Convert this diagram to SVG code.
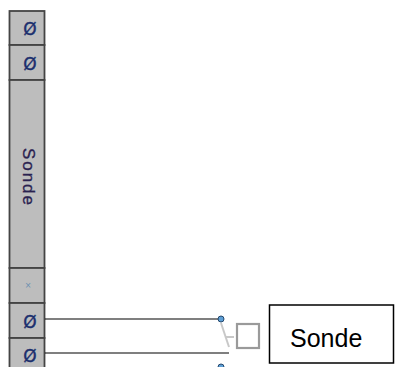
<svg xmlns="http://www.w3.org/2000/svg" width="395" height="367" viewBox="0 0 395 367">
<style>
.cell{fill:#bdbdbd;stroke:#444;stroke-width:1.8}
.sym{font-family:"DejaVu Sans",sans-serif;font-size:17px;fill:#1c2f6e;text-anchor:middle;stroke:#1c2f6e;stroke-width:0.4}
.conn{stroke:#000;stroke-width:1.2;fill:none}
.dot{fill:#5d9fd6;stroke:#24476b;stroke-width:1}
.faint{stroke:#c8c8c8;stroke-width:2;fill:none}
</style>
<rect width="395" height="367" fill="#fff"/>
<g id="strip">
<rect class="cell" x="9.5" y="11" width="35" height="34"/>
<text class="sym" x="30" y="35">Ø</text>
<rect class="cell" x="9.5" y="45" width="35" height="35"/>
<text class="sym" x="30" y="70">Ø</text>
<rect class="cell" x="9.5" y="80" width="35" height="188"/>
<text transform="translate(23,148) rotate(90)" font-family="Liberation Sans,Arial,sans-serif" font-size="17" fill="#2a2250" stroke="#2a2250" stroke-width="0.3" textLength="57" lengthAdjust="spacing">Sonde</text>
<rect class="cell" x="9.5" y="268" width="35" height="35"/>
<text x="28" y="288" font-family="DejaVu Sans,sans-serif" font-size="8" fill="#6a8fb0" text-anchor="middle">×</text>
<rect class="cell" x="9.5" y="303" width="35" height="35"/>
<text class="sym" x="30" y="328">Ø</text>
<rect class="cell" x="9.5" y="338" width="35" height="35"/>
<text class="sym" x="30" y="362">Ø</text>
</g>
<g id="connectors">
<line class="conn" x1="45" y1="319" x2="221" y2="319"/>
<line class="conn" x1="45" y1="353" x2="229" y2="353"/>
</g>
<g id="symbol">
<line class="faint" x1="221" y1="323" x2="229" y2="347"/>
<line class="faint" x1="225" y1="337" x2="234" y2="337"/>
<rect x="237" y="324" width="22" height="24" fill="none" stroke="#9a9a9a" stroke-width="2.2"/>
<circle class="dot" cx="221" cy="319" r="3"/>
<circle class="dot" cx="221" cy="367" r="3"/>
</g>
<g id="sonde">
<rect x="269.5" y="305" width="124" height="58" fill="#fff" stroke="#000" stroke-width="1.5"/>
<text x="290" y="347" font-family="Liberation Sans,Arial,sans-serif" font-size="25" fill="#000">Sonde</text>
</g>
</svg>
